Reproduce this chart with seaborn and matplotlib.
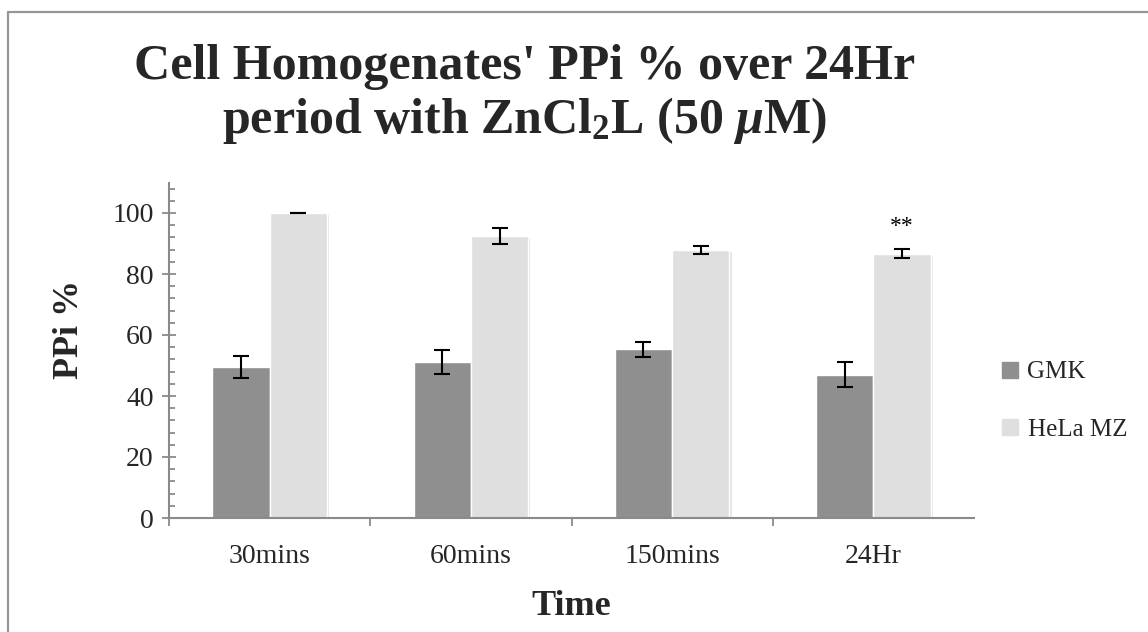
import matplotlib
matplotlib.use("Agg")
import matplotlib.pyplot as plt
import matplotlib.patheffects as pe
import seaborn as sns
import pandas as pd
import numpy as np
from matplotlib.lines import Line2D
from matplotlib.ticker import MultipleLocator

# ---- data ----
categories = ["30mins", "60mins", "150mins", "24Hr"]
series_names = ["GMK", "HeLa MZ"]
gmk_values = [49.5, 51.2, 55.3, 47.0]
gmk_errors = [3.6, 3.9, 2.5, 4.1]
hela_values = [100.0, 92.5, 87.8, 86.7]
hela_errors = [0.1, 2.7, 1.4, 1.6]
yticks = [0, 20, 40, 60, 80, 100]
annotation_text = "**"

colors = ["#8f8f8f", "#dfdfdf"]

df = pd.DataFrame({
    "Time": categories * 2,
    "Series": [series_names[0]] * 4 + [series_names[1]] * 4,
    "Value": gmk_values + hela_values,
})

sns.set_theme(style="white")
serif = ["Liberation Serif", "DejaVu Serif"]
plt.rcParams["font.family"] = serif
plt.rcParams["mathtext.fontset"] = "custom"
plt.rcParams["mathtext.rm"] = "Liberation Serif:bold"
plt.rcParams["mathtext.it"] = "Liberation Serif:italic:bold"
plt.rcParams["mathtext.bf"] = "Liberation Serif:bold"

W, H = 1148, 632
fig = plt.figure(figsize=(W / 100, H / 100), dpi=100)
ax = fig.add_axes([169 / W, 1 - 518 / H, (974 - 169) / W, (518 - 182.5) / H])

sns.barplot(data=df, x="Time", y="Value", hue="Series", order=categories,
            hue_order=series_names, palette=colors, width=0.57, gap=0,
            errorbar=None, ax=ax, legend=False, saturation=1)

bar_containers = list(ax.containers)
for cont in bar_containers:
    for p in cont.patches:
        p.set_path_effects([pe.SimplePatchShadow(offset=(1.5, -1.5), alpha=0.18,
                                                 shadow_rgbFace="#777777"),
                            pe.Normal()])

# error bars at the bar centers
errs = [gmk_errors, hela_errors]
vals = [gmk_values, hela_values]
for si, cont in enumerate(bar_containers):
    xs = [p.get_x() + p.get_width() / 2 for p in cont.patches]
    ax.errorbar(xs, vals[si], yerr=errs[si], fmt="none", ecolor="black",
                elinewidth=1.5, capsize=6, capthick=1.5, zorder=5)

# annotation above last HeLa bar
last = bar_containers[1].patches[-1]
ax.text(last.get_x() + last.get_width() / 2, 95.5, annotation_text,
        ha="center", va="center", fontsize=17, color="black")

ax.set_ylim(0, 110)
ax.set_xlim(-0.5, len(categories) - 0.5)
ax.set_yticks(yticks)
ax.yaxis.set_minor_locator(MultipleLocator(4))
ax.set_xticks(np.arange(len(categories)))
ax.set_xticklabels(categories)
ax.set_xticks(np.arange(len(categories)) - 0.5, minor=True)

axis_col = "#8a8a8a"
for s in ["top", "right"]:
    ax.spines[s].set_visible(False)
for s in ["left", "bottom"]:
    ax.spines[s].set_color(axis_col)
    ax.spines[s].set_linewidth(1.5)

ax.tick_params(axis="y", which="major", direction="inout", length=10, width=1.3,
               color=axis_col, labelsize=20, pad=6, left=True)
ax.tick_params(axis="y", which="minor", direction="in", length=4.5, width=1.3,
               color=axis_col, left=True)
ax.tick_params(axis="x", which="major", length=0, labelsize=20, pad=19)
ax.tick_params(axis="x", which="minor", direction="out", length=6, width=1.3,
               color=axis_col, bottom=True)

ax.set_xlabel("")
ax.set_ylabel("")
fig.text(571 / W, 1 - 615 / H, "Time", fontsize=26, fontweight="bold",
         ha="center", va="baseline")
fig.text(69 / W, 1 - 329 / H, "PPi %", fontsize=26, fontweight="bold",
         ha="center", va="center", rotation=90)

# legend
handles = [Line2D([0], [0], marker="s", linestyle="none", markersize=11,
                  markerfacecolor=c, markeredgecolor=c) for c in colors]
fig.legend(handles, series_names, loc="center left",
           bbox_to_anchor=(1000 / W, 1 - 401 / H), frameon=False, fontsize=18,
           handlelength=0.8, handletextpad=0.3, labelspacing=1.4,
           borderaxespad=0, borderpad=0)

# title
fig.text(0.457, 1 - 95 / H, "Cell Homogenates' PPi % over 24Hr\n"
         r"period with ZnCl$_2$L (50 $\mathit{\mu}$M)",
         ha="center", va="center", fontsize=36, fontweight="bold",
         linespacing=1.15)

# chart border (top and left visible)
fig.add_artist(Line2D([8 / W, 1.0], [1 - 12 / H, 1 - 12 / H],
                      transform=fig.transFigure, color="#969696", lw=1.6))
fig.add_artist(Line2D([8 / W, 8 / W], [0, 1 - 12 / H],
                      transform=fig.transFigure, color="#969696", lw=1.6))

fig.savefig("out.png", dpi=100)
